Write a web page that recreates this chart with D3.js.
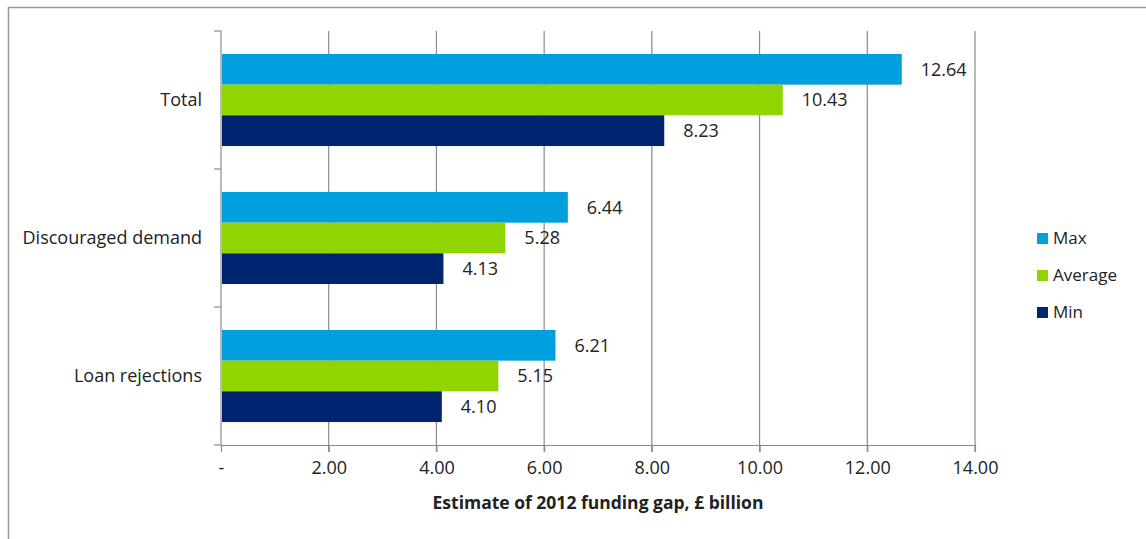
<!DOCTYPE html>
<html>
<head>
<meta charset="utf-8">
<script src="https://cdn.jsdelivr.net/npm/d3@7"></script>
<style>
  body { margin: 0; background: #fff; }
  text { font-family: "Open Sans", "Liberation Sans", sans-serif; fill: #222; }
</style>
</head>
<body>
<div class="canvas"></div>
<script>
const categories = ["Total", "Discouraged demand", "Loan rejections"]
const seriesNames = ["Max", "Average", "Min"]
const maxValues = [12.64, 6.44, 6.21]
const avgValues = [10.43, 5.28, 5.15]
const minValues = [8.23, 4.13, 4.10]
const xTicks = [0, 2, 4, 6, 8, 10, 12, 14]
const colors = ["#00a0de", "#92d400", "#002470"]

const width = 1146, height = 539
const svg = d3.select(".canvas").append("svg")
  .attr("width", width)
  .attr("height", height)

// frame lines (top + left only visible)
svg.append("line").attr("x1", 8).attr("x2", width).attr("y1", 7.5).attr("y2", 7.5)
  .attr("stroke", "#999").attr("stroke-width", 1.5)
svg.append("line").attr("x1", 8.5).attr("x2", 8.5).attr("y1", 7).attr("y2", height)
  .attr("stroke", "#999").attr("stroke-width", 1.5)

const margin = {top: 31, left: 221}
const graphWidth = 975 - margin.left
const graphHeight = 445 - margin.top

const graph = svg.append("g")
  .attr("transform", `translate(${margin.left}, ${margin.top})`)

const xScale = d3.scaleLinear().domain([0, 14]).range([0, graphWidth])
const yScale = d3.scaleBand().domain(categories).range([0, graphHeight])
  .paddingInner(0.333).paddingOuter(0.1665)
const ySub = d3.scaleBand().domain(seriesNames).range([0, yScale.bandwidth()])

// gridlines
graph.selectAll(".grid").data(xTicks.slice(1)).enter().append("line")
  .attr("x1", d => xScale(d)).attr("x2", d => xScale(d))
  .attr("y1", 0).attr("y2", graphHeight + 7)
  .attr("stroke", "#8a8a8a").attr("stroke-width", 1.2)

// x axis
const xAxis = d3.axisBottom(xScale)
  .tickValues(xTicks)
  .tickSize(7)
  .tickSizeOuter(0)
  .tickFormat(d => d === 0 ? "-" : d3.format(".2f")(d))
const xAxisGroup = graph.append("g")
  .attr("transform", `translate(0, ${graphHeight})`)
  .call(xAxis)
xAxisGroup.select(".domain").attr("stroke", "#8a8a8a").attr("stroke-width", 1.2)
xAxisGroup.selectAll(".tick line").attr("stroke", "#8a8a8a").attr("stroke-width", 1.2)
xAxisGroup.selectAll(".tick text")
  .attr("y", 16).attr("font-size", 18)
  .style("font-family", "'Open Sans', sans-serif").attr("fill", "#222")

xAxisGroup.append("text")
  .attr("x", graphWidth / 2 - 0).attr("y", 64)
  .attr("text-anchor", "middle")
  .attr("font-size", 17.5).attr("font-weight", "bold")
  .attr("fill", "#222")
  .text("Estimate of 2012 funding gap, £ billion")

// y axis
const yAxisGroup = graph.append("g")
yAxisGroup.append("line").attr("x1", 0).attr("x2", 0).attr("y1", 0).attr("y2", graphHeight)
  .attr("stroke", "#8a8a8a").attr("stroke-width", 1.2)
const boundaries = [0].concat(categories.map(c => yScale(c) + yScale.bandwidth() + yScale.step() * 0.333 / 2))
yAxisGroup.selectAll(".ytick").data(boundaries).enter().append("line")
  .attr("x1", -7).attr("x2", 0)
  .attr("y1", d => d).attr("y2", d => d)
  .attr("stroke", "#8a8a8a").attr("stroke-width", 1.2)
yAxisGroup.selectAll(".ylabel").data(categories).enter().append("text")
  .attr("x", -19)
  .attr("y", d => yScale(d) + yScale.bandwidth() / 2)
  .attr("dy", "0.35em")
  .attr("text-anchor", "end")
  .attr("font-size", 18)
  .text(d => d)

// bars
const rows = categories.map((c, i) => ({
  category: c,
  values: [maxValues[i], avgValues[i], minValues[i]]
}))

const groups = graph.selectAll(".group").data(rows).enter().append("g")
  .attr("transform", d => `translate(0, ${yScale(d.category)})`)

groups.selectAll("rect")
  .data(d => d.values.map((v, j) => ({name: seriesNames[j], value: v, color: colors[j]})))
  .enter().append("rect")
  .attr("x", 1)
  .attr("y", d => ySub(d.name))
  .attr("width", d => xScale(d.value) - 1)
  .attr("height", ySub.bandwidth())
  .attr("fill", d => d.color)

groups.selectAll(".val")
  .data(d => d.values.map((v, j) => ({name: seriesNames[j], value: v})))
  .enter().append("text")
  .attr("x", d => xScale(d.value) + 19)
  .attr("y", d => ySub(d.name) + ySub.bandwidth() / 2)
  .attr("dy", "0.35em")
  .attr("font-size", 18)
  .text(d => d3.format(".2f")(d.value))

// legend
const legend = svg.selectAll(".lineLegend").data(seriesNames).enter().append("g")
  .attr("transform", (d, i) => `translate(1037, ${233 + i * 37})`)
legend.append("rect").attr("width", 11).attr("height", 11)
  .attr("fill", (d, i) => colors[i])
legend.append("text").attr("x", 16).attr("y", 5.5).attr("dy", "0.35em")
  .attr("font-size", 17).text(d => d)
</script>
</body>
</html>
